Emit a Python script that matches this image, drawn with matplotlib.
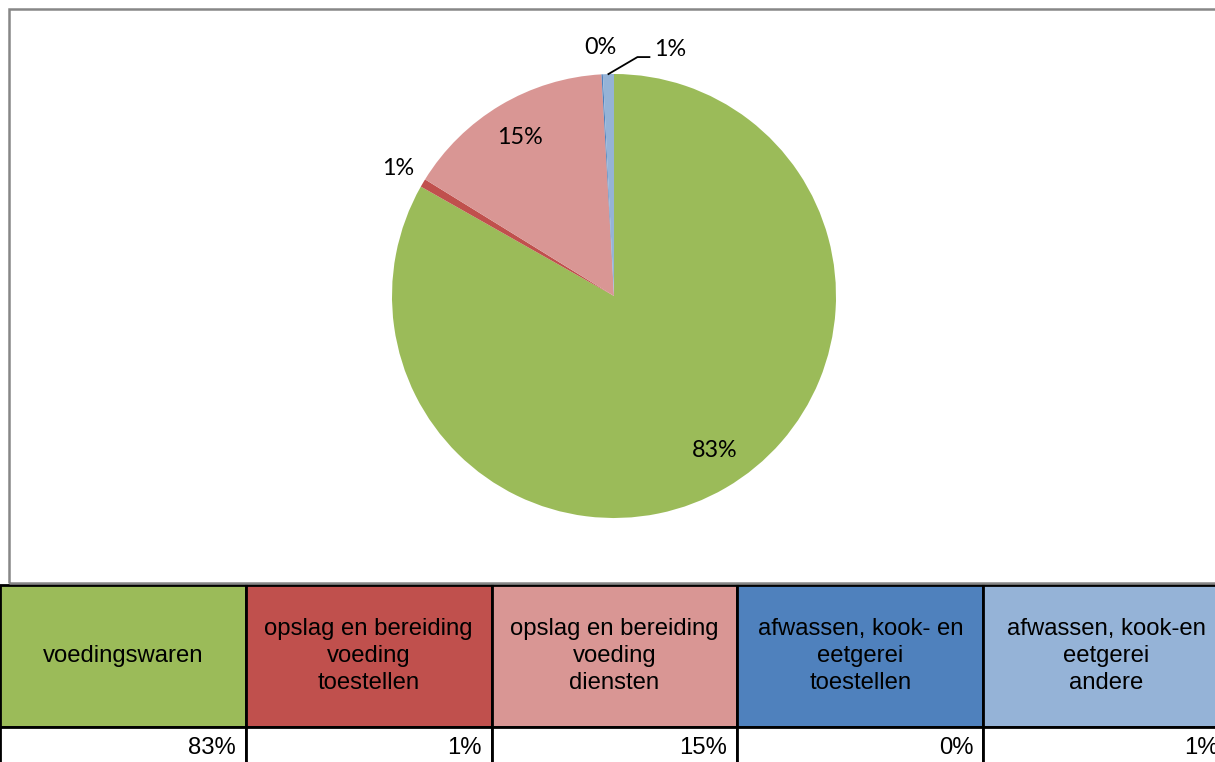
import matplotlib
matplotlib.use("Agg")
import matplotlib.pyplot as plt
from matplotlib.patches import Rectangle
import numpy as np

categories = [
    "voedingswaren",
    "opslag en bereiding\nvoeding\ntoestellen",
    "opslag en bereiding\nvoeding\ndiensten",
    "afwassen, kook- en\neetgerei\ntoestellen",
    "afwassen, kook-en\neetgerei\nandere",
]
values = [83.2, 0.6, 15.3, 0.1, 0.8]
value_labels = ["83%", "1%", "15%", "0%", "1%"]
colors = ["#9BBB59", "#C0504D", "#D99694", "#4F81BD", "#95B3D7"]

W, H = 1215, 762
fig = plt.figure(figsize=(W / 100, H / 100), dpi=100)


def px(x0, y0, w, h):
    return [x0 / W, 1 - (y0 + h) / H, w / W, h / H]


# chart frame
fig.patches.append(Rectangle((9 / W, 1 - 583 / H), (1300 - 9) / W, (583 - 9) / H,
                             transform=fig.transFigure, fill=False,
                             edgecolor="#878787", lw=1.8))

# pie
R = 222
ax = fig.add_axes(px(614 - R, 296 - R, 2 * R, 2 * R))
wedges, _ = ax.pie(values, colors=colors, startangle=90, counterclock=False,
                   radius=1, wedgeprops=dict(linewidth=0))
ax.set_xlim(-1, 1)
ax.set_ylim(-1, 1)
ax.set_aspect("equal")
ax.axis("off")

lab_font = dict(family="Lato", fontsize=16.8, color="black")
inside = {0: (0.83, 3.0), 2: (0.83, 0.0)}
outside = {1: (1.13, 0.0), 3: (1.12, 0.0)}
for i, w in enumerate(wedges):
    mid_deg = (w.theta1 + w.theta2) / 2
    if i in inside or i in outside:
        r, dang = inside.get(i, outside.get(i))
        mid = np.deg2rad(mid_deg + dang)
        ax.text(r * np.cos(mid), r * np.sin(mid), value_labels[i],
                ha="center", va="center", **lab_font)
    else:
        mid = np.deg2rad(mid_deg)
        p = 1.0 / R
        sx, sy = np.cos(mid), np.sin(mid)
        ex, ey = sx + 29 * p, sy + 17 * p
        fx, fy = ex + 12 * p, ey
        ax.plot([sx, ex, fx], [sy, ey, fy], color="black", lw=1.3, clip_on=False)
        ax.text(fx + 5 * p, fy + 8 * p, value_labels[i], ha="left", va="center", **lab_font)

# table
tax = fig.add_axes(px(0, 585, 1229, 184))
tax.axis("off")
tbl = tax.table(cellText=[categories, value_labels],
                cellColours=[colors, ["white"] * len(colors)],
                cellLoc="center", bbox=[0, 0, 1, 1])
tbl.auto_set_font_size(False)
tbl.set_fontsize(17.2)
for (r, c), cell in tbl.get_celld().items():
    cell.set_height(142 if r == 0 else 42)
    cell.set_linewidth(2)
    cell.set_edgecolor("black")
    t = cell.get_text()
    t.set_fontfamily("Liberation Sans")
    t.set_multialignment("center")
    t.set_linespacing(1.28)
    if r == 1:
        cell.PAD = 10 / 246
        cell._loc = "right"
        t.set_ha("right")

fig.savefig("out.png", dpi=100)
